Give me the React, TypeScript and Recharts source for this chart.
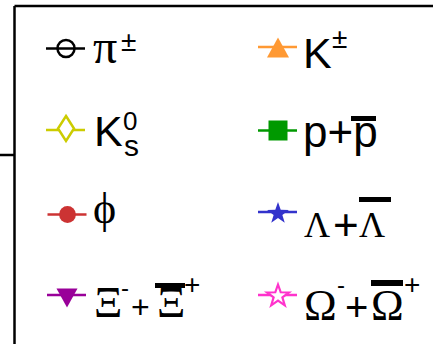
import { Legend, Line, LineChart, XAxis, YAxis } from "recharts";

// This crop only shows the legend box of a particle-spectra plot, no data points are visible.
const speciesKeys = ["pion", "kaon", "k0s", "proton", "phi", "lambda", "xi", "omega"];
const speciesNames = ["π±", "K±", "K0s", "p+p̄", "ϕ", "Λ+Λ̄", "Ξ-+Ξ̄+", "Ω-+Ω̄+"];
const speciesColors = ["#000000", "#ff9933", "#cccc00", "#009900", "#cc3333", "#3333cc", "#990099", "#ff33cc"];
const speciesMarkers = ["circleOpen", "triangle", "diamondOpen", "square", "circle", "star", "triangleDown", "starOpen"];
const yTicks = [2];
const rows: Record<string, number>[] = [];

const sans = "'Liberation Sans', Arial, sans-serif";
const serif = "'Liberation Serif', 'Times New Roman', serif";

// legend icon placement (x centre, line y) per entry
const iconPos: Record<string, [number, number]> = {
  pion: [66, 48.5],
  kaon: [278, 47],
  k0s: [66, 130],
  proton: [278, 130.5],
  phi: [67.5, 214.5],
  lambda: [278, 212],
  xi: [67, 295],
  omega: [278, 295],
};

function starPoints(cx: number, cy: number, r: number) {
  const pts: string[] = [];
  for (let i = 0; i < 10; i++) {
    const rr = i % 2 === 0 ? r : r * 0.4;
    const a = -Math.PI / 2 + (i * Math.PI) / 5;
    pts.push(`${cx + rr * Math.cos(a)},${cy + rr * Math.sin(a)}`);
  }
  return pts.join(" ");
}

function Marker({ kind, cx, cy, color }: { kind: string; cx: number; cy: number; color: string }) {
  const line = <line x1={cx - 20} x2={cx + 19} y1={cy} y2={cy} stroke={color} strokeWidth={2.7} />;
  let m = null;
  if (kind === "circleOpen") m = <circle cx={cx} cy={cy} r={8.5} fill="none" stroke={color} strokeWidth={2.5} />;
  if (kind === "circle") m = <circle cx={cx} cy={cy} r={8.4} fill={color} />;
  if (kind === "square") m = <rect x={cx - 9.5} y={cy - 10} width={19} height={20} fill={color} />;
  if (kind === "triangle")
    m = <polygon points={`${cx},${cy - 9.5} ${cx - 11},${cy + 10.5} ${cx + 11},${cy + 10.5}`} fill={color} />;
  if (kind === "triangleDown")
    m = <polygon points={`${cx - 10.5},${cy - 6.5} ${cx + 10.5},${cy - 6.5} ${cx},${cy + 12.5}`} fill={color} />;
  if (kind === "diamondOpen")
    m = (
      <polygon
        points={`${cx},${cy - 14} ${cx + 8},${cy - 1.5} ${cx},${cy + 11} ${cx - 8},${cy - 1.5}`}
        fill="#fff"
        stroke={color}
        strokeWidth={2.5}
      />
    );
  if (kind === "star") m = <polygon points={starPoints(cx, cy + 1.5, 11.5)} fill={color} />;
  if (kind === "starOpen")
    m = <polygon points={starPoints(cx, cy + 1, 11.5)} fill="#fff" stroke={color} strokeWidth={2.2} />;
  return (
    <g>
      {line}
      {m}
    </g>
  );
}

function Label({ id }: { id: string }) {
  switch (id) {
    case "pion":
      return (
        <g>
          <text x={93} y={63} fontFamily={serif} fontSize={48}>π</text>
          <text x={121} y={51} fontFamily={sans} fontSize={28}>±</text>
        </g>
      );
    case "kaon":
      return (
        <g>
          <text x={303} y={68} fontFamily={sans} fontSize={43}>K</text>
          <text x={332} y={48} fontFamily={sans} fontSize={28}>±</text>
        </g>
      );
    case "k0s":
      return (
        <text fontFamily={sans}>
          <tspan x={94} y={146} fontSize={43}>K</tspan>
          <tspan x={123} y={130} fontSize={26}>0</tspan>
          <tspan x={124} y={156} fontSize={30}>s</tspan>
        </text>
      );
    case "proton":
      return (
        <g>
          <text x={303} y={147} fontFamily={sans} fontSize={44}>p+p</text>
          <rect x={351} y={116} width={25} height={5} fill="#000" />
        </g>
      );
    case "phi":
      return (
        <text x={93} y={223} fontFamily={serif} fontSize={44}>ϕ</text>
      );
    case "lambda":
      return (
        <g>
          <text x={304} y={237} fontFamily={serif} fontSize={36}>Λ</text>
          <text x={333} y={240} fontFamily={sans} fontSize={44}>+</text>
          <text x={359} y={237} fontFamily={serif} fontSize={36}>Λ</text>
          <rect x={359} y={197} width={32} height={5} fill="#000" />
        </g>
      );
    case "xi":
      return (
        <g>
          <text x={94} y={317} fontFamily={serif} fontSize={44}>Ξ</text>
          <text x={121} y={296} fontFamily={sans} fontSize={24}>-</text>
          <text x={131} y={318} fontFamily={sans} fontSize={32}>+</text>
          <text x={157} y={317} fontFamily={serif} fontSize={44}>Ξ</text>
          <rect x={155} y={283} width={30} height={5} fill="#000" />
          <text x={184} y={294} fontFamily={sans} fontSize={28}>+</text>
        </g>
      );
    case "omega":
      return (
        <g>
          <text x={304} y={320} fontFamily={serif} fontSize={44}>Ω</text>
          <text x={337} y={293} fontFamily={sans} fontSize={24}>-</text>
          <text x={345} y={321} fontFamily={sans} fontSize={40}>+</text>
          <text x={371} y={320} fontFamily={serif} fontSize={44}>Ω</text>
          <rect x={371} y={280} width={32} height={6} fill="#000" />
          <text x={404} y={294} fontFamily={sans} fontSize={28}>+</text>
        </g>
      );
    default:
      return null;
  }
}

function LegendBox({ payload }: { payload?: any[] }) {
  return (
    <svg width={433} height={344} style={{ display: "block" }}>
      {(payload || []).map((entry) => {
        const key = String(entry.dataKey);
        const i = speciesKeys.indexOf(key);
        const [cx, cy] = iconPos[key];
        return (
          <g key={key}>
            <Marker kind={speciesMarkers[i]} cx={cx} cy={cy} color={speciesColors[i]} />
            <Label id={key} />
          </g>
        );
      })}
    </svg>
  );
}

export default function App() {
  return (
    <div
      style={{
        position: "fixed",
        left: 0,
        top: 0,
        width: 433,
        height: 344,
        overflow: "hidden",
        background: "#fff",
      }}
    >
      <LineChart width={433} height={453} data={rows} margin={{ top: 5, right: 0, bottom: 0, left: 0 }}>
        <XAxis
          type="number"
          dataKey="pt"
          domain={[0, 1]}
          allowDataOverflow
          orientation="top"
          height={1}
          tick={false}
          tickLine={false}
          axisLine={{ stroke: "#000", strokeWidth: 2.5 }}
        />
        <YAxis
          type="number"
          domain={[0, 3]}
          allowDataOverflow
          ticks={yTicks}
          width={14.5}
          tickSize={14.5}
          axisLine={{ stroke: "#000", strokeWidth: 2.5 }}
          tickLine={{ stroke: "#000", strokeWidth: 2.5 }}
          tick={() => <g />}
        />
        {speciesKeys.map((k, i) => (
          <Line
            key={k}
            dataKey={k}
            name={speciesNames[i]}
            stroke={speciesColors[i]}
            strokeWidth={2}
            isAnimationActive={false}
          />
        ))}
        <Legend
          layout="horizontal"
          verticalAlign="middle"
          align="center"
          wrapperStyle={{ left: 0, top: 0, width: 433, height: 344 }}
          content={(props: any) => <LegendBox payload={props.payload} />}
        />
      </LineChart>
    </div>
  );
}
